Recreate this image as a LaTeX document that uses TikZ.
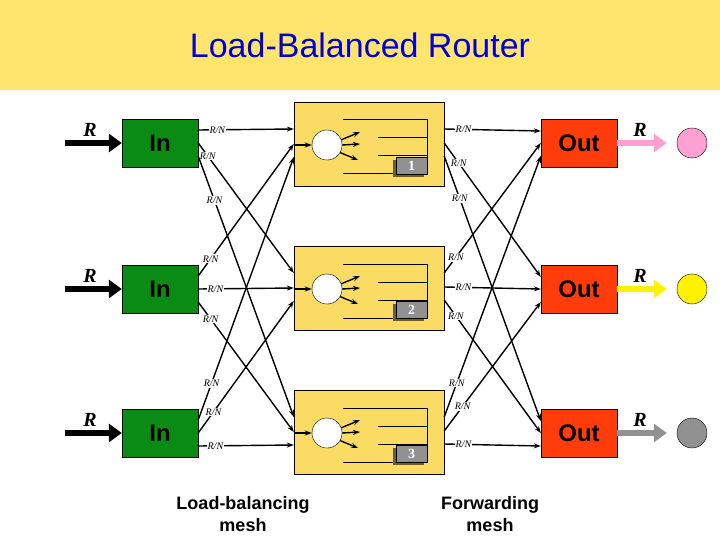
\documentclass[tikz,border=0pt]{standalone}
\usepackage{fontspec}
\setmainfont{Liberation Serif}
\newfontfamily\sansf{Liberation Sans}
\usetikzlibrary{arrows.meta,calc}
\definecolor{band}{RGB}{255,228,110}
\definecolor{mbox}{RGB}{250,220,100}
\definecolor{ingreen}{RGB}{10,140,20}
\definecolor{outred}{RGB}{255,60,10}
\definecolor{titleblue}{RGB}{0,0,210}
\definecolor{qgray}{RGB}{145,145,145}
\definecolor{qshadow}{RGB}{110,95,40}
\definecolor{pinkc}{RGB}{255,160,210}
\begin{document}
\begin{tikzpicture}[x=1pt,y=-1pt,
  inbox/.style={draw=black,fill=ingreen,minimum width=76pt,minimum height=48pt,inner sep=0pt,font=\sansf\bfseries\fontsize{24}{24}\selectfont},
  outbox/.style={draw=black,fill=outred,minimum width=76pt,minimum height=48pt,inner sep=0pt,font=\sansf\bfseries\fontsize{24}{24}\selectfont},
  mid/.style={draw=black,fill=mbox,minimum width=150pt,minimum height=84pt,inner sep=0pt},
  lab/.style={fill=white,inner sep=1pt,font=\itshape\fontsize{10}{10}\selectfont},
  conn/.style={line width=1.4pt,-{Stealth[length=7pt,width=5pt]}},
  bigR/.style={font=\bfseries\itshape\fontsize{20}{20}\selectfont},
  qline/.style={line width=1pt},
  sink/.style={circle,draw=black,minimum size=30pt,inner sep=0pt}]
\useasboundingbox (0,0) rectangle (720,540);
\fill[band] (0,0) rectangle (720,90);
\node[font=\sansf\fontsize{34}{34}\selectfont,text=titleblue] (title) at (360,45) {Load-Balanced Router};
% nodes
\foreach \i/\c/\b in {1/143/102,2/289/246,3/433/390}{
  \node[inbox] (in\i) at (160,\c) {In};
  \node[outbox] (out\i) at (579,\c) {Out};
  \node[mid] (m\i) at (369,\b+42) {};
  \node[circle,draw=black,fill=white,minimum size=30pt,inner sep=0pt] (c\i) at (327,\b+43) {};
  \draw[qline] (343,\b+18) -- (427,\b+18) -- (427,\b+72) -- (343,\b+72);
  \draw[qline] (378,\b+36) -- (427,\b+36);
  \draw[qline] (378,\b+54) -- (427,\b+54);
  \fill[qshadow] (393,\b+58) rectangle (424,\b+75);
  \node[draw=black,fill=qgray,minimum width=31pt,minimum height=17pt,inner sep=0pt,text=white,font=\bfseries\fontsize{14}{14}\selectfont] (q\i) at (411.5,\b+63.5) {\i};
  \draw[conn] ($(m\i.west)+(0,1)$) -- (c\i.west);
  \draw[conn] (c\i.20) -- (360,\b+30);
  \draw[conn] (c\i.east) -- (360,\b+42);
  \draw[conn] (c\i.-30) -- (358,\b+58);
  \node[bigR] (rl\i) at (90,\c-13) {R};
  \draw[line width=6pt,-{Triangle[length=13pt,width=18pt]}] (65,\c) -- (in\i.west);
  \node[bigR] (rr\i) at (640,\c-13) {R};
}
\node[sink,fill=pinkc] (s1) at (692,143) {};
\node[sink,fill=yellow] (s2) at (692,289) {};
\node[sink,fill=qgray] (s3) at (692,433) {};
\draw[line width=6pt,pinkc,-{Triangle[length=13pt,width=18pt]}] (out1.east) -- ($(s1.west)+(-10,0)$);
\draw[line width=6pt,yellow,-{Triangle[length=13pt,width=18pt]}] (out2.east) -- ($(s2.west)+(-10,0)$);
\draw[line width=6pt,qgray,-{Triangle[length=13pt,width=18pt]}] (out3.east) -- ($(s3.west)+(-10,0)$);
% input mesh: In i -> box j
\foreach \i/\j/\oi/\oj/\p in {1/1/-13/-15/0.2, 1/2/0/-15/0.1, 1/3/13/-15/0.17,
   2/1/-13/0/0.13, 2/2/0/0/0.18, 2/3/13/0/0.13,
   3/1/-13/13/0.14, 3/2/0/13/0.16, 3/3/13/13/0.18}{
  \draw[conn] ($(in\i.east)+(0,\oi)$) -- ($(m\j.west)+(0,\oj)$) node[pos=\p,lab] {R/N};
}
% output mesh: box i -> Out j
\foreach \i/\j/\oi/\oj/\p in {1/1/-15/-12/0.2, 1/2/-1/-12/0.15, 1/3/12/-12/0.16,
   2/1/-15/0/0.12, 2/2/-1/0/0.2, 2/3/12/0/0.12,
   3/1/-15/13/0.13, 3/2/-1/13/0.19, 3/3/12/13/0.2}{
  \draw[conn] ($(m\i.east)+(0,\oi)$) -- ($(out\j.west)+(0,\oj)$) node[pos=\p,lab] {R/N};
}
\node[font=\sansf\bfseries\fontsize{18}{22}\selectfont,align=center] (lb) at (243,514) {Load-balancing\\mesh};
\node[font=\sansf\bfseries\fontsize{18}{22}\selectfont,align=center] (fw) at (490,514) {Forwarding\\mesh};
\end{tikzpicture}
\end{document}
